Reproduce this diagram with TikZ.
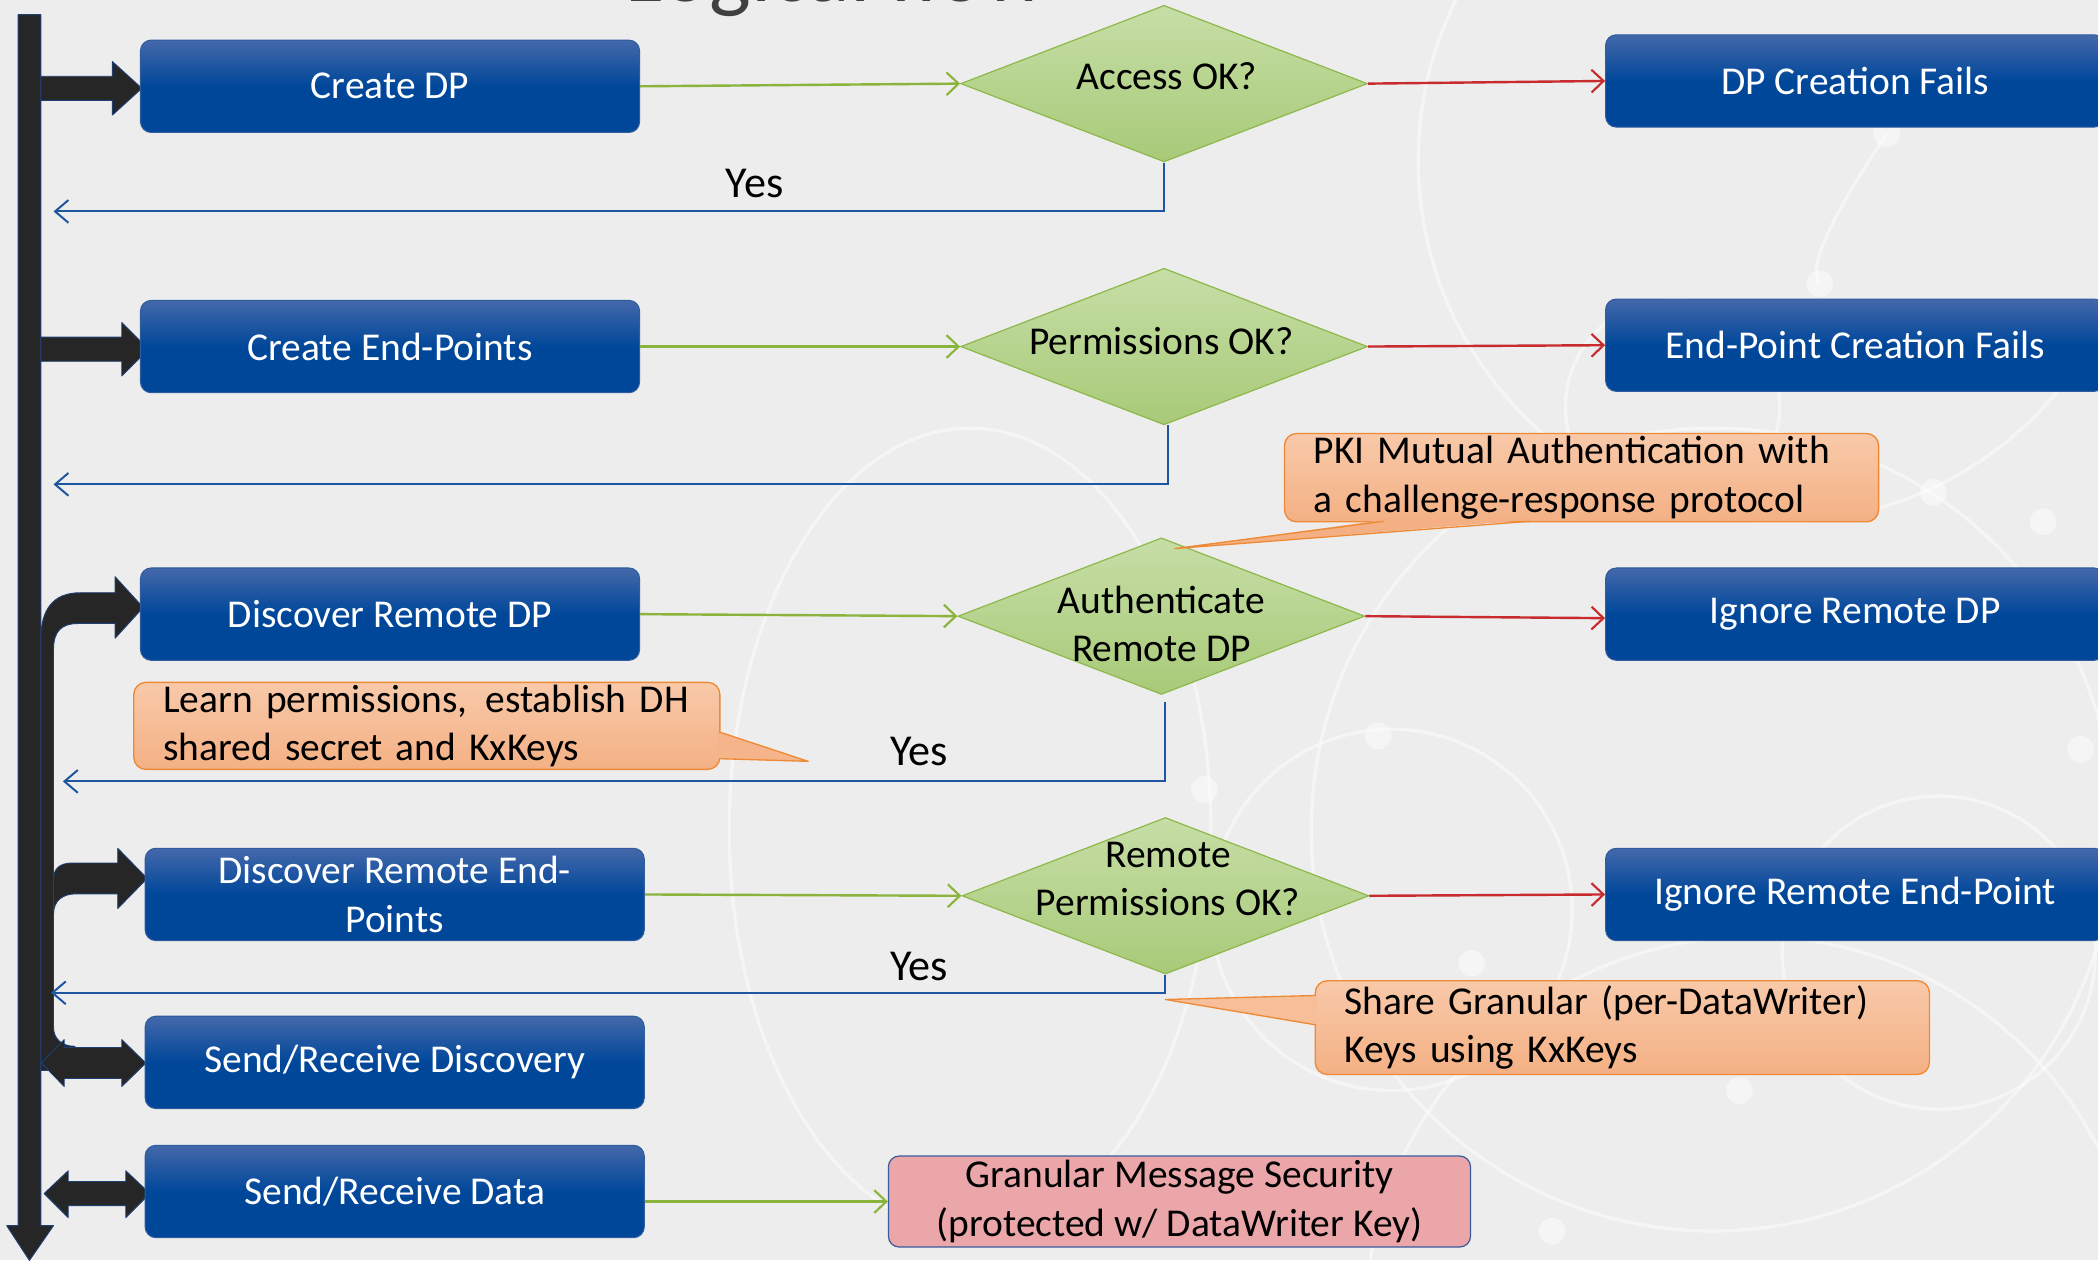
\documentclass[tikz,border=0pt]{standalone}
\usepackage{fontspec}
\setmainfont{Carlito}
\usetikzlibrary{arrows.meta,shapes.geometric,calc}
\definecolor{bg}{HTML}{EDEDED}
\definecolor{boxtop}{HTML}{4468AA}
\definecolor{boxbot}{HTML}{00479A}
\definecolor{boxline}{HTML}{2F5C9F}
\definecolor{diatop}{HTML}{C6DEA6}
\definecolor{diabot}{HTML}{A8CA78}
\definecolor{dialine}{HTML}{8DB84A}
\definecolor{garr}{HTML}{8AB43C}
\definecolor{rarr}{HTML}{C82A2E}
\definecolor{barr}{HTML}{1F56A0}
\definecolor{caltop}{HTML}{F8C9A9}
\definecolor{calbot}{HTML}{F4B084}
\definecolor{calline}{HTML}{EE8A35}
\definecolor{pinkfill}{HTML}{EAA6A8}
\definecolor{pinkline}{HTML}{3B5C9C}
\definecolor{thick}{HTML}{262626}
\definecolor{thickline}{HTML}{1F3F73}
\definecolor{titlec}{HTML}{404040}
\begin{document}
\begin{tikzpicture}[x=1pt,y=-1pt,
  every node/.style={font=\fontsize{29.5}{36}\selectfont},
  bluebox/.style={rectangle, rounded corners=8pt, minimum width=373pt, minimum height=69pt,
    inner sep=0pt, top color=boxtop, bottom color=boxbot, middle color=boxbot,
    draw=boxline, line width=0.8pt, text=white, align=center},
  dia/.style={diamond, minimum width=304pt, minimum height=117pt, inner sep=0pt,
    top color=diatop, bottom color=diabot, draw=dialine, line width=0.9pt},
  dtext/.style={text=black, align=center, inner sep=0pt},
  callout/.style={rectangle, rounded corners=9pt, top color=caltop, bottom color=calbot,
    draw=calline, line width=1pt, align=left, inner xsep=22pt, inner ysep=0pt, text=black},
  pinkbox/.style={rectangle, rounded corners=8pt, fill=pinkfill, draw=pinkline, line width=0.9pt,
    minimum width=435pt, minimum height=68pt, inner sep=0pt, align=center, text=black},
  yeslabel/.style={font=\fontsize{33}{38}\selectfont, text=black, inner sep=0pt},
  garrow/.style={draw=garr, line width=1.8pt, -{Straight Barb[length=9pt,width=17pt,line width=1.6pt]}},
  rarrow/.style={draw=rarr, line width=1.8pt, -{Straight Barb[length=9pt,width=17pt,line width=1.6pt]}},
  barrow/.style={draw=barr, line width=1.6pt, -{Straight Barb[length=10pt,width=17pt,line width=1.5pt]}},
  thk/.style={fill=thick, draw=thickline, line width=0.7pt, line join=round},
  bgline/.style={draw=white, line width=2.5pt, opacity=0.45},
  bgdot/.style={fill=white, opacity=0.45}
]
\path[use as bounding box] (0,0) rectangle (1568,942);
\clip (0,0) rectangle (1568,942);
\fill[bg] (0,0) rectangle (1568,942);

% faint background pattern
\draw[bgline] (1330,120) circle[radius=270pt];
\draw[bgline] (1250,304) circle[radius=80pt];
\draw[bgline] (725,620) ellipse[x radius=180pt, y radius=300pt];
\draw[bgline] (1040,680) circle[radius=135pt];
\draw[bgline] (1449,712) circle[radius=117pt];
\draw[bgline] (1280,620) circle[radius=300pt];
\draw[bgline] (1310,990) circle[radius=290pt];
\draw[bgline] (1410,100) .. controls (1370,160) and (1350,200) .. (1360,212);
\foreach \p in {(1410,100),(1360,212),(1445,368),(1527,390),(900,590),(1030,550),(1300,815),(1160,920),(1555,560),(1100,720)}
  \fill[bgdot] \p circle[radius=10pt];

% title (cut off at top, as in the reference)
\node[anchor=base, font=\fontsize{66}{70}\selectfont, text=titlec, inner sep=0pt] (title) at (625,1) {Logical flow};

% main vertical bar with arrow head
\path[thk] (13.5,11) -- (30.5,11) -- (30.5,916) -- (40,916) -- (22,942) -- (5,916) -- (13.5,916) -- cycle;
% block arrows
\path[thk] (30.5,57) -- (84,57) -- (84,46) -- (106,66) -- (84,86) -- (84,75) -- (30.5,75) -- cycle;
\path[thk] (30.5,252) -- (91,252) -- (91,241) -- (111,261) -- (91,281) -- (91,270) -- (30.5,270) -- cycle;
\path[thk] (30.5,790) -- (30.5,478) .. controls (30.5,455) and (40,443) .. (60,443) -- (86,443) -- (86,431)
  -- (107,454) -- (86,477) -- (86,466) -- (58,466) .. controls (46,466) and (40,472) .. (40,485)
  -- (40,768) .. controls (40,776) and (46,782) .. (56,782) -- (56,800) -- (30.5,800) -- cycle;
\path[thk] (40,690) -- (40,657) .. controls (40,649) and (45,645) .. (54,645) -- (88,645) -- (88,634)
  -- (110,656.5) -- (88,679) -- (88,668) -- (57,668) .. controls (47,668) and (40,673) .. (40,683) -- cycle;
\path[thk] (31,794.5) -- (48,777) -- (48,783) -- (91,783) -- (91,777) -- (109,794.5) -- (91,812)
  -- (91,806) -- (48,806) -- (48,812) -- cycle;
\path[thk] (33,892) -- (51,875) -- (51,883) -- (94,883) -- (94,875) -- (112,892) -- (94,910)
  -- (94,901) -- (51,901) -- (51,910) -- cycle;

% left boxes
\node[bluebox] (b1) at (291.5,64.5) {Create DP};
\node[bluebox] (b2) at (291.5,259) {Create End-Points};
\node[bluebox] (b3) at (291.5,459) {Discover Remote DP};
\node[bluebox] (b4) at (295,668.5) {Discover Remote End-\\Points};
\node[bluebox] (b5) at (295,794) {Send/Receive Discovery};
\node[bluebox] (b6) at (295,890.5) {Send/Receive Data};

% right boxes
\node[bluebox] (f1) at (1386.5,60.5) {DP Creation Fails};
\node[bluebox] (f2) at (1386.5,258) {End-Point Creation Fails};
\node[bluebox] (f3) at (1386.5,459) {Ignore Remote DP};
\node[bluebox] (f4) at (1386.5,668.5) {Ignore Remote End-Point};

% diamonds
\node[dia] (d1) at (870,62.5) {};
\node[dia] (d2) at (870,259) {};
\node[dia] (d3) at (868,460.5) {};
\node[dia] (d4) at (871,669.5) {};
\node[dtext] (d1t) at (872,57) {Access OK?};
\node[dtext] (d2t) at (868,255) {Permissions OK?};
\node[dtext] (d3t) at (868,466.5) {Authenticate\\Remote DP};
\node[dtext] (d4t) at (873,657) {Remote\\Permissions OK?};

% pink box
\node[pinkbox] (pk) at (881.5,898) {Granular Message Security\\(protected w/ DataWriter Key)};

% green arrows
\draw[garrow] (b1.east) -- (d1.west);
\draw[garrow] (b2.east) -- (d2.west);
\draw[garrow] (b3.east) -- (d3.west);
\draw[garrow] (b4.east) -- (d4.west);
\draw[garrow] (b6.east |- pk.west) -- (pk.west);

% red arrows
\draw[rarrow] (d1.east) -- (f1.west);
\draw[rarrow] (d2.east) -- (f2.west);
\draw[rarrow] (d3.east) -- ([yshift=-3pt]f3.west);
\draw[rarrow] (d4.east) -- (f4.west);

% blue return arrows
\coordinate (r1) at (40,158);
\coordinate (r2) at (40,362);
\coordinate (r3) at (47,584);
\coordinate (r4) at (38,742);
\draw[barrow] (d1.south) |- (r1);
\draw[barrow] ([xshift=3pt]d2.south) |- (r2);
\draw[barrow] ([xshift=3pt,yshift=-5pt]d3.south) |- (r3);
\draw[barrow] (d4.south) |- (r4);
\node[yeslabel] (y1) at (564,137) {Yes};
\node[yeslabel] (y2) at (687,562) {Yes};
\node[yeslabel] (y3) at (687,722) {Yes};

% callouts
\node[callout, minimum width=444pt, minimum height=66pt, text width=400pt] (c1) at (1182,357)
  {\mbox{PKI Mutual Authentication with}\\\mbox{a challenge-response protocol}};
\coordinate (c1tip) at (878,410);
\fill[calbot] (1034,388.6) -- (c1tip) -- (1143,388.6) -- cycle;
\draw[calline, line width=1pt, line join=round] (1034,389.6) -- (c1tip) -- (1143,389.6);

\node[callout, minimum width=438pt, minimum height=65pt, text width=394pt] (c2) at (319,542.5)
  {\mbox{Learn permissions,\hspace{0.12em} establish DH}\\\mbox{shared secret and KxKeys}};
\coordinate (c2tip) at (604,569);
\fill[calbot!85!caltop] (536.4,547) -- (c2tip) -- (536.4,567) -- cycle;
\draw[calline, line width=1pt, line join=round] (537.4,547) -- (c2tip) -- (537.4,567);

\node[callout, minimum width=459pt, minimum height=70pt, text width=415pt] (c3) at (1212.5,768)
  {\mbox{Share Granular (per-DataWriter)}\\\mbox{Keys using KxKeys}};
\coordinate (c3tip) at (871,747);
\fill[caltop!60!calbot] (984.6,744) -- (c3tip) -- (984.6,766) -- cycle;
\draw[calline, line width=1pt, line join=round] (983.6,744) -- (c3tip) -- (983.6,766);
\end{tikzpicture}
\end{document}
